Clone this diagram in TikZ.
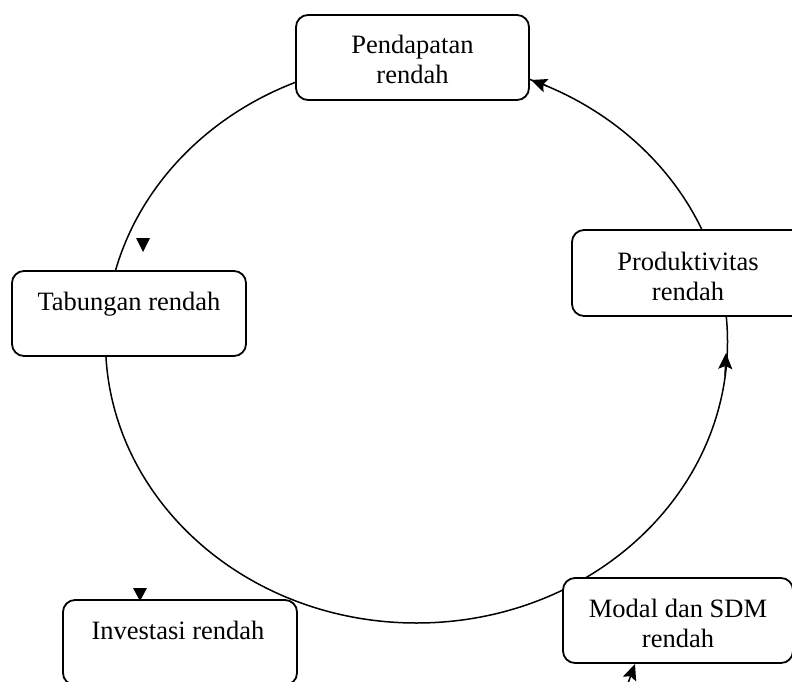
\documentclass[tikz,border=0pt]{standalone}
\usepackage{fontspec}
\setmainfont{Liberation Serif}
\usetikzlibrary{arrows.meta}
\begin{document}
\begin{tikzpicture}[x=1pt,y=-1pt,
  box/.style={draw, line width=1.8pt, rounded corners=12pt, fill=white, inner sep=0pt},
  txt/.style={anchor=base, inner sep=0pt, font=\fontsize{26.5}{30}\selectfont},
  ring/.style={line width=1.5pt},
  tri/.style={fill=black},
  tip/.style={line width=1.5pt, -{Stealth[length=16pt,width=14pt,inset=3pt]}}]
\useasboundingbox (0,0) rectangle (792,682);
\clip (0,0) rectangle (792,682);
\fill[white] (0,0) rectangle (792,682);
% cycle
\draw[ring] (416.5,341.6) ellipse [x radius=311pt, y radius=281.4pt];
% boxes
\node[box, minimum width=233pt, minimum height=85pt] (p) at (412.5,57.5) {};
\node[box, minimum width=234pt, minimum height=85pt] (t) at (129,313.5) {};
\node[box, minimum width=232pt, minimum height=86pt] (pr) at (688,273) {};
\node[box, minimum width=230pt, minimum height=85pt] (m) at (678,620.5) {};
\node[box, minimum width=234pt, minimum height=85pt] (i) at (180,642.5) {};
% texts
\node[txt] (pt) at (412.5,54) {\begin{tabular}[t]{@{}c@{}}Pendapatan\\rendah\end{tabular}};
\node[txt] (tt) at (129,310) {Tabungan rendah};
\node[txt] (prt) at (688,270) {\begin{tabular}[t]{@{}c@{}}Produktivitas\\rendah\end{tabular}};
\node[txt] (mt) at (678,617) {\begin{tabular}[t]{@{}c@{}}Modal dan SDM\\rendah\end{tabular}};
\node[txt] (it) at (178,639) {Investasi rendah};
% arrow heads
\coordinate (a1s) at (547,86);
\coordinate (a1e) at (531,80);
\draw[tip] (a1s) -- (a1e);
\coordinate (a2s) at (725,376);
\coordinate (a2e) at (726,353);
\draw[tip] (a2s) -- (a2e);
\coordinate (a3s) at (627,686);
\coordinate (a3e) at (635,664);
\draw[tip] (a3s) -- (a3e);
\fill[tri] (136,238) -- (150,238) -- (143,252) -- cycle;
\fill[tri] (133,588) -- (147,588) -- (140,601) -- cycle;
\end{tikzpicture}
\end{document}
